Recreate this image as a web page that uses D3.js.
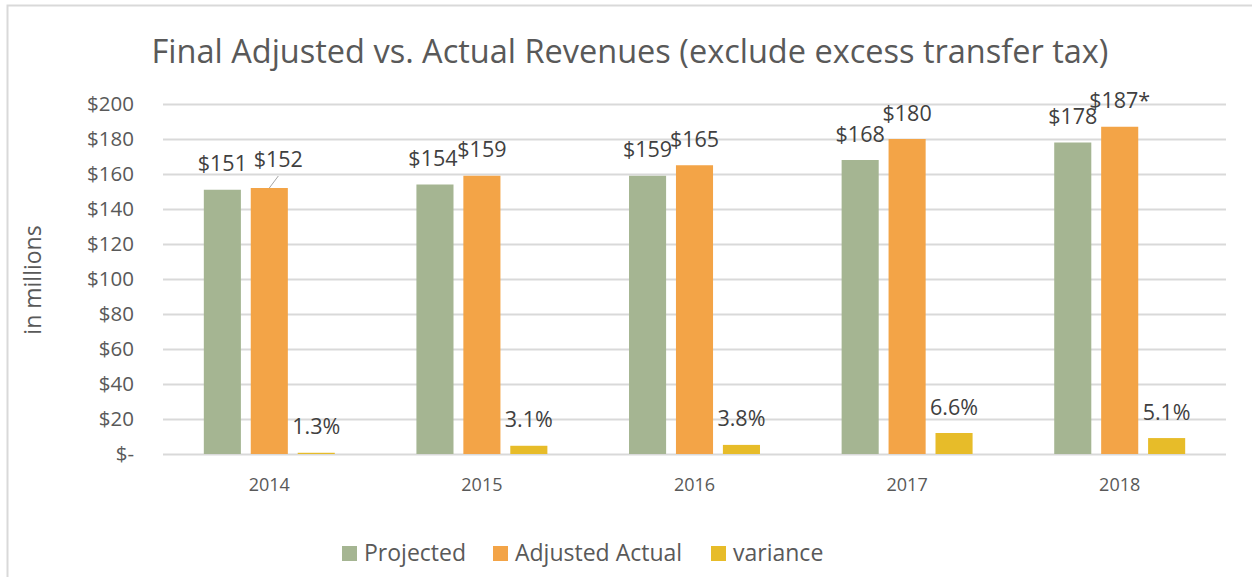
<!DOCTYPE html>
<html>
<head>
<meta charset="utf-8">
<script src="https://cdn.jsdelivr.net/npm/d3@7"></script>
<style>
  body { margin: 0; background: #fff; }
  text { font-family: "Open Sans", sans-serif; }
</style>
</head>
<body>
<div id="chart"></div>
<script>
// data
var years = ["2014", "2015", "2016", "2017", "2018"];
var projected = [151, 154, 159, 168, 178];
var adjustedActual = [152, 159, 165, 180, 187];
var variance = [0.7, 4.7, 5.2, 12, 9.1];
var projectedLabels = ["$151", "$154", "$159", "$168", "$178"];
var actualLabels = ["$152", "$159", "$165", "$180", "$187*"];
var varianceLabels = ["1.3%", "3.1%", "3.8%", "6.6%", "5.1%"];
var yTicks = [0, 20, 40, 60, 80, 100, 120, 140, 160, 180, 200];
var seriesNames = ["Projected", "Adjusted Actual", "variance"];
var colors = ["#A5B592", "#F3A447", "#E7BC29"];

var width = 1252, height = 577;
var margin = {top: 104, right: 26, bottom: 123, left: 163};
var visWidth = width - margin.left - margin.right;
var visHeight = height - margin.top - margin.bottom;

var svg = d3.select("#chart").append("svg")
    .attr("width", width)
    .attr("height", height);

// chart frame (right / bottom edges run off the picture)
svg.append("rect")
    .attr("x", 7.5).attr("y", 5.5)
    .attr("width", 1260).attr("height", 600)
    .attr("fill", "none")
    .attr("stroke", "#D9D9D9")
    .attr("stroke-width", 2);

svg.append("text")
    .attr("x", 630)
    .attr("y", 63)
    .attr("text-anchor", "middle")
    .attr("font-size", "32.5px")
    .attr("fill", "#595959")
    .text("Final Adjusted vs. Actual Revenues (exclude excess transfer tax)");

var g = svg.append("g")
    .attr("transform", `translate(${margin.left}, ${margin.top})`);

var xscale = d3.scaleBand()
    .domain(years)
    .range([0, visWidth])
    .paddingInner(0.384)
    .paddingOuter(0.192);

var xinner = d3.scaleBand()
    .domain(seriesNames)
    .range([0, xscale.bandwidth()])
    .paddingInner(0.21);

var yscale = d3.scaleLinear()
    .domain([0, 200])
    .range([visHeight, 0]);

// gridlines + y labels
var yAxis = g.append("g")
    .call(d3.axisLeft(yscale)
        .tickValues(yTicks)
        .tickSize(-visWidth)
        .tickPadding(29)
        .tickFormat(function(d) { return d === 0 ? "$-" : "$" + d; }));
yAxis.select(".domain").remove();
yAxis.selectAll("line").attr("stroke", "#D9D9D9").attr("stroke-width", 2);
yAxis.selectAll("text")
    .attr("font-size", "20.5px")
    .attr("fill", "#595959")
    .style("font-family", "Open Sans, sans-serif");

// x labels
var xAxis = g.append("g")
    .attr("transform", "translate(0," + visHeight + ")")
    .call(d3.axisBottom(xscale).tickSize(0).tickPadding(24));
xAxis.select(".domain").remove();
xAxis.selectAll("text")
    .attr("font-size", "18px")
    .attr("fill", "#595959")
    .style("font-family", "Open Sans, sans-serif");

svg.append("text")
    .attr("transform", "translate(41,280) rotate(-90)")
    .attr("text-anchor", "middle")
    .attr("font-size", "23px")
    .attr("fill", "#595959")
    .text("in millions");

var series = [projected, adjustedActual, variance];
var labels = [projectedLabels, actualLabels, varianceLabels];
// hand-moved labels in the original
var nudge = {"1-0": [9, -3], "0-1": [-2, 0]};

series.forEach(function(vals, s) {
    g.selectAll(".bar" + s)
      .data(vals)
      .join("rect")
        .attr("class", "bar" + s)
        .attr("x", function(d, i) { return xscale(years[i]) + xinner(seriesNames[s]); })
        .attr("y", function(d) { return yscale(d); })
        .attr("width", xinner.bandwidth())
        .attr("height", function(d) { return visHeight - yscale(d); })
        .attr("fill", colors[s]);

    g.selectAll(".lab" + s)
      .data(vals)
      .join("text")
        .attr("class", "lab" + s)
        .attr("x", function(d, i) {
            var n = nudge[s + "-" + i] || [0, 0];
            return xscale(years[i]) + xinner(seriesNames[s]) + xinner.bandwidth() / 2 + n[0];
        })
        .attr("y", function(d, i) {
            var n = nudge[s + "-" + i] || [0, 0];
            return yscale(d) - 26 + n[1];
        })
        .attr("dy", "0.35em")
        .attr("text-anchor", "middle")
        .attr("font-size", "21.5px")
        .attr("fill", "#404040")
        .text(function(d, i) { return labels[s][i]; });
});

// leader line for the moved 2014 label
var lx = xscale(years[0]) + xinner(seriesNames[1]) + xinner.bandwidth() / 2;
g.append("line")
    .attr("x1", lx + 9).attr("y1", yscale(adjustedActual[0]) - 12)
    .attr("x2", lx).attr("y2", yscale(adjustedActual[0]))
    .attr("stroke", "#A6A6A6")
    .attr("stroke-width", 1);

// legend
var legendX = [342, 493, 711];
var legend = svg.append("g");
seriesNames.forEach(function(name, i) {
    legend.append("rect")
        .attr("x", legendX[i]).attr("y", 546)
        .attr("width", 15).attr("height", 15)
        .attr("fill", colors[i]);
    legend.append("text")
        .attr("x", legendX[i] + 22).attr("y", 553)
        .attr("dy", "0.35em")
        .attr("font-size", "23px")
        .attr("fill", "#595959")
        .text(name);
});
</script>
</body>
</html>
